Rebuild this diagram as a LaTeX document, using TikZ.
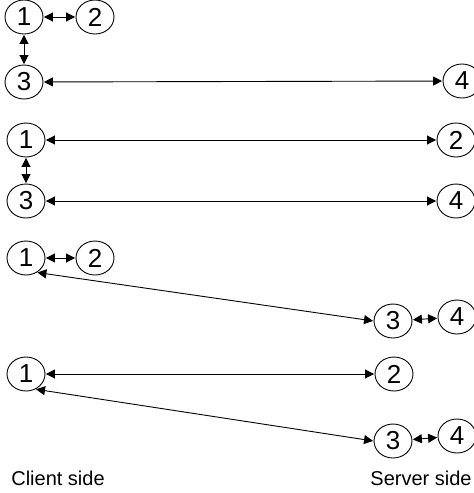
\documentclass[tikz,border=0pt]{standalone}
\usepackage{fontspec}
\setmainfont{Liberation Sans}
\usetikzlibrary{shapes.geometric,arrows.meta}
\begin{document}
\begin{tikzpicture}[x=1pt,y=-1pt,
  peer/.style={draw,ellipse,minimum width=38pt,minimum height=34pt,inner sep=0pt,line width=0.9pt,font=\fontsize{26}{26}\selectfont},
  link/.style={line width=0.9pt,{Triangle[length=9pt,width=9pt]}-{Triangle[length=9pt,width=9pt]},shorten <=0.5pt,shorten >=0.5pt},
  side/.style={font=\fontsize{20}{21}\selectfont}]
\useasboundingbox[fill=white] (0,0) rectangle (474,493);
% row 1
\node[peer] (a1) at (24,17) {1};
\node[peer] (a2) at (95,17) {2};
\node[peer] (a3) at (24,82) {3};
\node[peer] (a4) at (462,81) {4};
\draw[link] (a1) -- (a2);
\draw[link] (a1) -- (a3);
\draw[link] (a3) -- (a4);
% row 2
\node[peer] (b1) at (26,140) {1};
\node[peer] (b2) at (456,140) {2};
\node[peer] (b3) at (26,201) {3};
\node[peer] (b4) at (456,201) {4};
\draw[link] (b1) -- (b2);
\draw[link] (b1) -- (b3);
\draw[link] (b3) -- (b4);
% row 3
\node[peer] (c1) at (26,258) {1};
\node[peer] (c2) at (95,258) {2};
\node[peer] (c3) at (393,321) {3};
\node[peer] (c4) at (457,317) {4};
\draw[link] (c1) -- (c2);
\draw[link] (c1.-53) -- (c3.west);
\draw[link] (c3) -- (c4);
% row 4
\node[peer] (d1) at (26,374) {1};
\node[peer] (d2) at (394,374) {2};
\node[peer] (d3) at (393,441) {3};
\node[peer] (d4) at (457,436) {4};
\draw[link] (d1) -- (d2);
\draw[link] (d1.-58) -- (d3.west);
\draw[link] (d3) -- (d4);
% labels
\node[side] (cl) at (58,478) {Client side};
\node[side] (sv) at (421,478) {Server side};
\end{tikzpicture}
\end{document}
